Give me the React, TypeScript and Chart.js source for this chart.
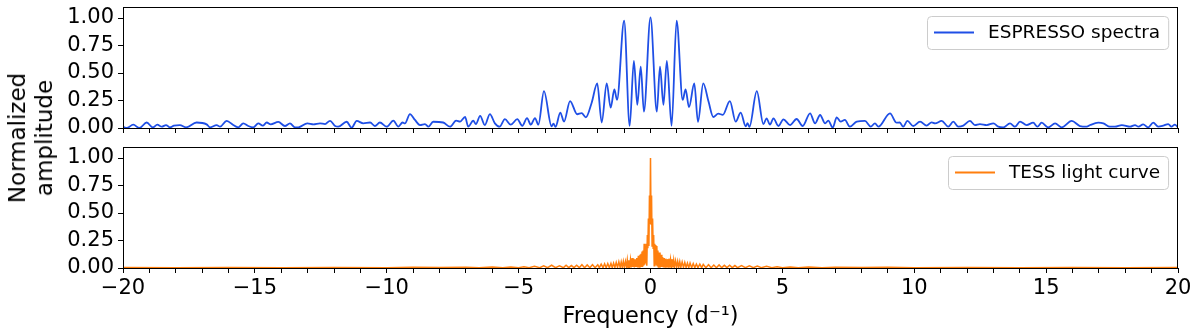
import React, { useEffect, useRef } from 'react';
import { Chart, registerables } from 'chart.js';

Chart.register(...registerables);

const FONT = "'DejaVu Sans', 'Liberation Sans', sans-serif";

// ---- data ----
const X_TICKS = [-20, -19, -18, -17, -16, -15, -14, -13, -12, -11, -10, -9, -8, -7, -6, -5, -4, -3, -2, -1, 0, 1, 2, 3, 4, 5, 6, 7, 8, 9, 10, 11, 12, 13, 14, 15, 16, 17, 18, 19, 20];
const X_LABELED = [-20, -15, -10, -5, 0, 5, 10, 15, 20];
const Y_TICKS = [0, 0.25, 0.5, 0.75, 1.0];
const X_RANGE = [-20, 20];
const Y_RANGE = [0, 1.1];

const ESPRESSO_LABEL = 'ESPRESSO spectra';
const TESS_LABEL = 'TESS light curve';
const X_TITLE = 'Frequency (d\u207B\u00B9)';
const Y_TITLE = ['Normalized', 'amplitude'];

// [frequency, amplitude] — ESPRESSO spectral window
const ESPRESSO: [number, number][] = [
  [-20.0, 0.012], [-19.86, 0.0], [-19.61, 0.03], [-19.38, 0.0], [-19.1, 0.05], [-18.87, 0.005], [-18.7, 0.03], [-18.53, 0.012],
  [-18.37, 0.027], [-18.22, 0.006], [-18.07, 0.021], [-17.84, 0.027], [-17.61, 0.006], [-17.21, 0.05], [-16.83, 0.033], [-16.7, 0.006],
  [-16.45, 0.027], [-16.32, 0.012], [-16.07, 0.065], [-15.82, 0.027], [-15.63, 0.006], [-15.44, 0.042], [-15.25, 0.018], [-15.06, 0.006],
  [-14.87, 0.042], [-14.7, 0.021], [-14.55, 0.05], [-14.4, 0.033], [-14.11, 0.055], [-13.86, 0.018], [-13.67, 0.042], [-13.48, 0.006],
  [-13.35, 0.006], [-13.01, 0.042], [-12.78, 0.033], [-12.53, 0.042], [-12.34, 0.036], [-12.15, 0.065], [-11.96, 0.018], [-11.84, 0.012],
  [-11.52, 0.057], [-11.33, 0.003], [-11.14, 0.065], [-10.89, 0.042], [-10.63, 0.05], [-10.45, 0.018], [-10.26, 0.05], [-10.0, 0.012],
  [-9.75, 0.067], [-9.56, 0.012], [-9.4, 0.05], [-9.31, 0.042], [-9.12, 0.127], [-8.93, 0.073], [-8.74, 0.027], [-8.55, 0.036],
  [-8.42, 0.012], [-8.24, 0.057], [-7.86, 0.05], [-7.6, 0.012], [-7.37, 0.067], [-7.22, 0.058], [-7.03, 0.1], [-6.91, 0.012],
  [-6.72, 0.067], [-6.62, 0.036], [-6.46, 0.11], [-6.28, 0.027], [-6.09, 0.127], [-5.9, 0.042], [-5.72, 0.012], [-5.52, 0.08],
  [-5.3, 0.03], [-5.05, 0.08], [-4.86, 0.02], [-4.68, 0.09], [-4.54, 0.03], [-4.38, 0.09], [-4.25, 0.03], [-4.04, 0.335],
  [-3.75, 0.015], [-3.68, 0.04], [-3.6, 0.01], [-3.42, 0.14], [-3.28, 0.058], [-3.05, 0.245], [-2.78, 0.125], [-2.61, 0.135],
  [-2.45, 0.097], [-2.23, 0.23], [-2.02, 0.405], [-1.85, 0.05], [-1.66, 0.405], [-1.51, 0.185], [-1.37, 0.35], [-1.27, 0.255],
  [-1.0, 0.975], [-0.79, 0.02], [-0.63, 0.61], [-0.5, 0.21], [-0.37, 0.557], [-0.25, 0.148], [0, 1.005], [0.24, 0.148],
  [0.36, 0.557], [0.49, 0.21], [0.62, 0.61], [0.8, 0.02], [0.99, 0.975], [1.22, 0.255], [1.33, 0.35], [1.46, 0.19],
  [1.66, 0.405], [1.8, 0.055], [2.0, 0.405], [2.2, 0.24], [2.38, 0.1], [2.57, 0.13], [2.74, 0.12], [3.01, 0.245],
  [3.23, 0.058], [3.42, 0.14], [3.61, 0.015], [3.68, 0.045], [3.75, 0.01], [4.03, 0.335], [4.28, 0.035], [4.4, 0.088],
  [4.53, 0.03], [4.66, 0.088], [4.85, 0.018], [5.04, 0.079], [5.29, 0.027], [5.54, 0.082], [5.77, 0.018], [6.05, 0.133],
  [6.24, 0.042], [6.43, 0.118], [6.62, 0.042], [6.74, 0.067], [6.91, 0.003], [7.06, 0.097], [7.21, 0.058], [7.37, 0.073],
  [7.56, 0.012], [7.82, 0.058], [8.13, 0.064], [8.35, 0.012], [8.51, 0.042], [8.64, 0.012], [9.08, 0.133], [9.33, 0.048],
  [9.45, 0.05], [9.58, 0.012], [9.74, 0.064], [9.96, 0.018], [10.22, 0.058], [10.47, 0.021], [10.66, 0.052], [10.79, 0.042],
  [11.04, 0.064], [11.29, 0.012], [11.48, 0.058], [11.67, 0.012], [11.86, 0.021], [12.11, 0.064], [12.3, 0.027], [12.49, 0.036],
  [12.75, 0.027], [13.0, 0.042], [13.19, 0.012], [13.38, 0.006], [13.63, 0.042], [13.82, 0.012], [14.01, 0.058], [14.26, 0.027],
  [14.51, 0.048], [14.67, 0.012], [14.83, 0.048], [15.08, 0.006], [15.34, 0.042], [15.59, 0.006], [15.97, 0.064], [16.28, 0.018],
  [16.54, 0.012], [16.67, 0.027], [16.98, 0.048], [17.17, 0.042], [17.42, 0.012], [17.61, 0.012], [17.87, 0.027], [18.18, 0.012],
  [18.37, 0.027], [18.5, 0.012], [18.68, 0.033], [18.87, 0.006], [19.06, 0.048], [19.25, 0.012], [19.44, 0.021], [19.63, 0.036],
  [19.75, 0.012], [19.88, 0.03], [20.0, 0.006],
];

// [frequency, amplitude] — TESS light curve periodogram
const TESS: [number, number][] = [
  [-20, 0.004], [-18, 0.003], [-16, 0.005], [-14, 0.003], [-12, 0.005], [-10, 0.003], [-9, 0.006], [-8, 0.004],
  [-7, 0.007], [-6.5, 0.003], [-6, 0.009], [-5.6, 0.003], [-5.3, 0.01], [-5, 0.003], [-4.8, 0.012], [-4.6, 0.003],
  [-4.4, 0.015], [-4.2, 0.003], [-4.05, 0.02], [-3.9, 0.003], [-3.75, 0.025], [-3.6, 0.003], [-3.45, 0.02], [-3.3, 0.003],
  [-3.2, 0.025], [-3.1, 0.003], [-3.0, 0.022], [-2.9, 0.003], [-2.8, 0.025], [-2.7, 0.003], [-2.6, 0.03], [-2.5, 0.003],
  [-2.4, 0.028], [-2.3, 0.003], [-2.2, 0.03], [-2.1, 0.003], [-2.0, 0.03], [-1.94, 0.003], [-1.87, 0.036], [-1.8, 0.003],
  [-1.74, 0.038], [-1.68, 0.003], [-1.62, 0.04], [-1.56, 0.003], [-1.5, 0.042], [-1.45, 0.003], [-1.4, 0.045], [-1.35, 0.005],
  [-1.3, 0.05], [-1.25, 0.005], [-1.2, 0.057], [-1.15, 0.005], [-1.11, 0.055], [-1.07, 0.005], [-1.03, 0.06], [-0.99, 0.005],
  [-0.95, 0.06], [-0.91, 0.01], [-0.88, 0.072], [-0.85, 0.005], [-0.82, 0.07], [-0.79, 0.01], [-0.76, 0.075], [-0.73, 0.005],
  [-0.7, 0.09], [-0.67, 0.01], [-0.64, 0.085], [-0.61, 0.005], [-0.58, 0.08], [-0.55, 0.01], [-0.52, 0.09], [-0.49, 0.005],
  [-0.46, 0.11], [-0.43, 0.01], [-0.4, 0.12], [-0.38, 0.01], [-0.36, 0.13], [-0.34, 0.01], [-0.32, 0.15], [-0.3, 0.01],
  [-0.28, 0.16], [-0.26, 0.02], [-0.24, 0.22], [-0.22, 0.03], [-0.2, 0.2], [-0.18, 0.04], [-0.16, 0.22], [-0.14, 0.02],
  [-0.12, 0.3], [-0.1, 0.18], [-0.08, 0.45], [-0.06, 0.2], [-0.04, 0.66], [-0.02, 0.4], [0, 1.0], [0.02, 0.4],
  [0.04, 0.66], [0.06, 0.2], [0.08, 0.45], [0.1, 0.18], [0.12, 0.3], [0.14, 0.02], [0.16, 0.22], [0.18, 0.04],
  [0.2, 0.21], [0.22, 0.03], [0.24, 0.2], [0.26, 0.02], [0.28, 0.16], [0.3, 0.01], [0.32, 0.14], [0.34, 0.01],
  [0.36, 0.14], [0.38, 0.01], [0.4, 0.12], [0.43, 0.01], [0.46, 0.1], [0.49, 0.005], [0.52, 0.09], [0.55, 0.01],
  [0.58, 0.085], [0.61, 0.005], [0.64, 0.08], [0.67, 0.01], [0.7, 0.085], [0.73, 0.005], [0.76, 0.075], [0.79, 0.01],
  [0.82, 0.08], [0.85, 0.005], [0.88, 0.07], [0.91, 0.01], [0.95, 0.065], [0.99, 0.005], [1.03, 0.06], [1.07, 0.005],
  [1.11, 0.058], [1.15, 0.005], [1.2, 0.055], [1.25, 0.005], [1.3, 0.05], [1.35, 0.005], [1.4, 0.045], [1.45, 0.003],
  [1.5, 0.045], [1.56, 0.003], [1.62, 0.04], [1.68, 0.003], [1.74, 0.036], [1.8, 0.003], [1.87, 0.035], [1.94, 0.003],
  [2.0, 0.032], [2.1, 0.003], [2.2, 0.03], [2.3, 0.003], [2.4, 0.027], [2.5, 0.003], [2.6, 0.028], [2.7, 0.003],
  [2.8, 0.024], [2.9, 0.003], [3.0, 0.025], [3.1, 0.003], [3.2, 0.022], [3.3, 0.003], [3.45, 0.022], [3.6, 0.003],
  [3.75, 0.02], [3.9, 0.003], [4.05, 0.018], [4.2, 0.003], [4.4, 0.015], [4.6, 0.003], [4.8, 0.012], [5, 0.003],
  [5.3, 0.01], [5.6, 0.003], [6, 0.008], [6.5, 0.003], [7, 0.007], [8, 0.004], [9, 0.006], [10, 0.003],
  [12, 0.005], [14, 0.003], [16, 0.005], [18, 0.003], [20, 0.004],
];

const BLUE = '#1f4fe6';
const ORANGE = '#ff7f0e';

const fmtX = (v: number) => (v < 0 ? '\u2212' + Math.abs(v) : String(v));

const frameLegendPlugin = {
  id: 'frameLegend',
  afterDraw(chart: any) {
    const { ctx, chartArea: a } = chart;
    ctx.save();
    ctx.strokeStyle = '#000';
    ctx.lineWidth = 1;
    ctx.strokeRect(Math.round(a.left) + 0.5, Math.round(a.top) + 0.5, Math.round(a.right - a.left) - 1, Math.round(a.bottom - a.top));
    const ds = chart.data.datasets[0];
    ctx.font = `18.5px ${FONT}`;
    const tw = ctx.measureText(ds.label).width;
    const w = 7 + 40 + 14 + tw + 8;
    const h = 33;
    const x = Math.round(a.right - 10 - w);
    const y = Math.round(a.top + 9);
    ctx.beginPath();
    ctx.roundRect(x + 0.5, y + 0.5, w, h, 4);
    ctx.fillStyle = 'rgba(255,255,255,0.8)';
    ctx.fill();
    ctx.strokeStyle = '#cccccc';
    ctx.lineWidth = 1;
    ctx.stroke();
    ctx.beginPath();
    ctx.moveTo(x + 7, y + h / 2);
    ctx.lineTo(x + 47, y + h / 2);
    ctx.strokeStyle = ds.borderColor;
    ctx.lineWidth = 1.8;
    ctx.stroke();
    ctx.fillStyle = '#000';
    ctx.textBaseline = 'middle';
    ctx.textAlign = 'left';
    ctx.fillText(ds.label, x + 61, y + h / 2 + 1);
    ctx.restore();
  },
};

function makeConfig(points: [number, number][], label: string, color: string, smooth: boolean, bottom: boolean, xAxisHeight: number) {
  const grid = { display: true, drawOnChartArea: false, drawTicks: true, tickLength: 5, color: '#000', lineWidth: 1 };
  return {
    type: 'line',
    data: {
      datasets: [
        {
          label,
          data: points.map(([x, y]) => ({ x, y })),
          borderColor: color,
          borderWidth: smooth ? 1.8 : 1.5,
          pointRadius: 0,
          fill: false,
          cubicInterpolationMode: smooth ? 'monotone' : 'default',
          tension: 0,
        },
      ],
    },
    options: {
      animation: false,
      responsive: false,
      devicePixelRatio: 1,
      layout: { padding: { left: 0, right: 22, top: 7, bottom: 0 } },
      plugins: { legend: { display: false }, tooltip: { enabled: false } },
      scales: {
        x: {
          type: 'linear',
          min: X_RANGE[0],
          max: X_RANGE[1],
          afterBuildTicks: (s: any) => {
            s.ticks = X_TICKS.map((v) => ({ value: v }));
          },
          afterFit: (s: any) => {
            s.height = xAxisHeight;
            s.paddingLeft = 0;
            s.paddingRight = 0;
          },
          grid,
          border: { display: false },
          ticks: {
            display: bottom,
            autoSkip: false,
            maxRotation: 0,
            minRotation: 0,
            padding: 3,
            color: '#000',
            font: { family: FONT, size: 21 },
            callback: (v: any) => (X_LABELED.includes(Number(v)) ? fmtX(Number(v)) : ''),
          },
          title: {
            display: bottom,
            text: X_TITLE,
            color: '#000',
            font: { family: FONT, size: 22.5 },
            padding: { top: 0, bottom: 4 },
          },
        },
        y: {
          type: 'linear',
          min: Y_RANGE[0],
          max: Y_RANGE[1],
          afterBuildTicks: (s: any) => {
            s.ticks = Y_TICKS.map((v) => ({ value: v }));
          },
          afterFit: (s: any) => {
            s.width = 123;
            s.paddingTop = 0;
            s.paddingBottom = 0;
          },
          grid,
          border: { display: false },
          ticks: {
            autoSkip: false,
            padding: 4,
            color: '#000',
            font: { family: FONT, size: 21 },
            callback: (v: any) => Number(v).toFixed(2),
          },
        },
      },
    },
    plugins: [frameLegendPlugin],
  } as any;
}

function Panel({ points, label, color, smooth, bottom, height, top }: any) {
  const ref = useRef<HTMLCanvasElement | null>(null);
  useEffect(() => {
    if (!ref.current) return;
    const chart = new Chart(ref.current, makeConfig(points, label, color, smooth, bottom, bottom ? 67 : 12));
    return () => chart.destroy();
  }, []);
  return (
    <canvas
      ref={ref}
      width={1200}
      height={height}
      style={{ position: 'absolute', left: 0, top, width: 1200, height, display: 'block' }}
    />
  );
}

export default function App() {
  return (
    <div style={{ position: 'fixed', left: 0, top: 0, width: 1200, height: 335, background: '#fff', overflow: 'hidden' }}>
      <Panel points={ESPRESSO} label={ESPRESSO_LABEL} color={BLUE} smooth={true} bottom={false} height={140} top={0} />
      <Panel points={TESS} label={TESS_LABEL} color={ORANGE} smooth={false} bottom={true} height={195} top={140} />
      <div
        style={{
          position: 'absolute',
          left: 31,
          top: 137.5,
          transform: 'translate(-50%, -50%) rotate(-90deg)',
          fontFamily: FONT,
          fontSize: 23,
          lineHeight: '27px',
          textAlign: 'center',
          whiteSpace: 'nowrap',
          color: '#000',
        }}
      >
        {Y_TITLE[0]}
        <br />
        {Y_TITLE[1]}
      </div>
    </div>
  );
}
